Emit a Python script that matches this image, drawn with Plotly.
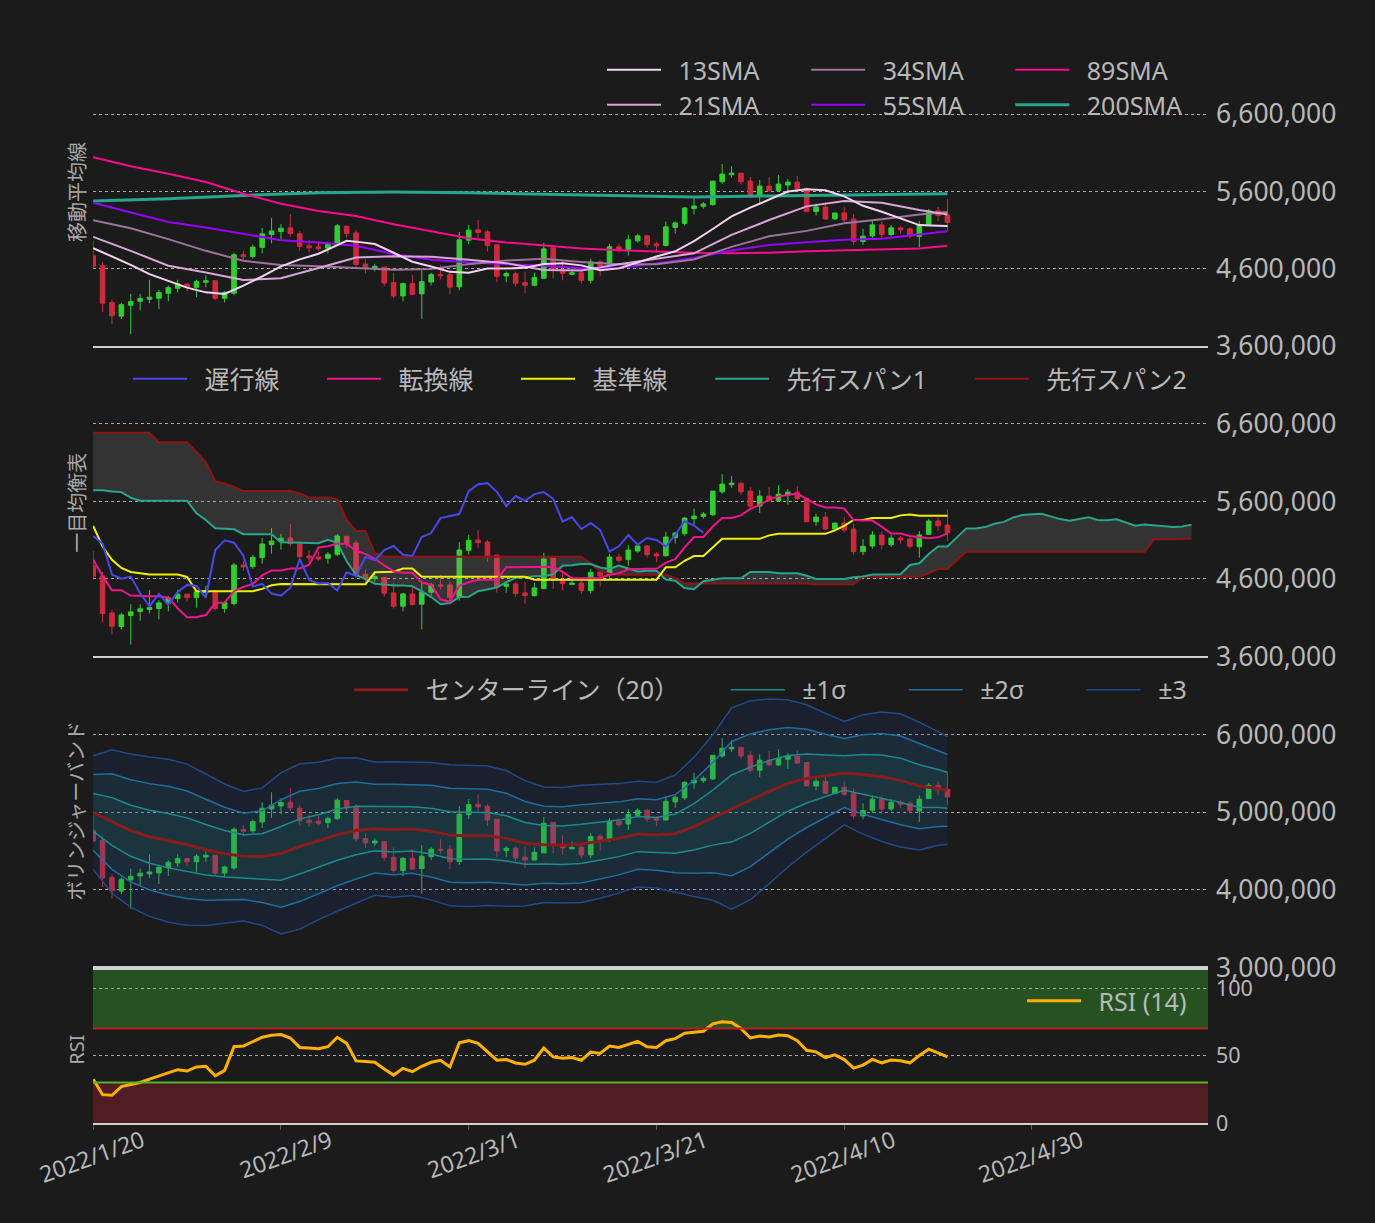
import pandas as pd
import plotly.graph_objects as go

START = pd.Timestamp("2022-01-20")


def to_dates(days):
    return [START + pd.Timedelta(days=int(d)) for d in days]


def jpy(vals_k):
    return [v * 1000 for v in vals_k]


# ---------------- daily candles (JPY thousands), 2022/1/20 .. 2022/4/21 ----------------
open_k = [4767, 4639, 4162, 3986, 4128, 4179, 4205, 4218, 4282, 4347, 4403, 4360, 4424, 4445, 4218, 4282,
          4780, 4759, 4875, 5042, 5081, 5128, 5051, 4896, 4883, 4866, 4918, 5149, 5063, 4660, 4604, 4621,
          4420, 4248, 4407, 4274, 4428, 4523, 4523, 4364, 4969, 5102, 5076, 4909, 4506, 4536, 4420, 4385,
          4475, 4870, 4578, 4527, 4548, 4450, 4690, 4651, 4883, 4849, 4960, 5025, 4922, 4900, 5132, 5184,
          5377, 5407, 5428, 5724, 5815, 5836, 5733, 5540, 5669, 5609, 5682, 5720, 5639, 5338, 5398, 5244,
          5321, 5244, 4952, 5025, 5167, 5042, 5128, 5115, 5016, 5175, 5347, 5295]
high_k = [4960, 4690, 4201, 4158, 4274, 4274, 4458, 4325, 4381, 4458, 4411, 4458, 4514, 4445, 4312, 4806,
          4832, 4909, 5128, 5257, 5179, 5308, 5089, 4973, 4948, 4948, 5179, 5158, 5102, 4724, 4664, 4621,
          4548, 4420, 4523, 4578, 4548, 4651, 4578, 5076, 5167, 5231, 5102, 4909, 4561, 4561, 4561, 4548,
          4935, 4870, 4703, 4626, 4587, 4729, 4716, 4922, 4922, 5038, 5051, 5038, 4948, 5209, 5209, 5398,
          5510, 5463, 5733, 5952, 5926, 5836, 5785, 5746, 5785, 5810, 5759, 5797, 5639, 5441, 5463, 5321,
          5398, 5308, 5115, 5218, 5205, 5167, 5154, 5141, 5218, 5373, 5398, 5501]
low_k = [4617, 4038, 3883, 3948, 3754, 4063, 4154, 4076, 4179, 4295, 4308, 4231, 4360, 4192, 4162, 4257,
         4703, 4733, 4797, 4926, 4978, 5016, 4832, 4810, 4832, 4797, 4896, 5003, 4617, 4540, 4566, 4372,
         4218, 4179, 4257, 3948, 4385, 4463, 4269, 4321, 4913, 4995, 4823, 4424, 4424, 4372, 4282, 4372,
         4475, 4475, 4450, 4527, 4411, 4411, 4501, 4617, 4810, 4772, 4939, 4875, 4819, 4888, 5055, 5158,
         5300, 5377, 5415, 5699, 5776, 5686, 5510, 5450, 5596, 5596, 5557, 5621, 5338, 5287, 5231, 5231,
         5205, 4909, 4909, 4991, 4978, 5016, 5055, 4991, 4875, 5175, 5218, 5089]
close_k = [4630, 4154, 3990, 4136, 4175, 4214, 4231, 4291, 4355, 4403, 4360, 4433, 4445, 4218, 4295, 4780,
           4754, 4879, 5051, 5089, 5124, 5055, 4888, 4870, 4857, 4918, 5154, 5055, 4656, 4604, 4630, 4415,
           4248, 4407, 4269, 4433, 4523, 4510, 4360, 4973, 5098, 5068, 4900, 4501, 4536, 4411, 4385, 4484,
           4857, 4587, 4540, 4548, 4450, 4686, 4639, 4883, 4840, 4973, 5025, 4913, 4896, 5141, 5192, 5385,
           5411, 5437, 5733, 5823, 5836, 5724, 5540, 5669, 5609, 5694, 5720, 5634, 5338, 5398, 5244, 5321,
           5231, 4952, 5021, 5167, 5042, 5128, 5102, 5021, 5167, 5347, 5287, 5197]

# ---------------- moving averages (read at sample days) ----------------
sma13_days = [0, 2, 4, 6, 8, 10, 12, 14, 16, 18, 20, 22, 24, 26, 27, 28, 30, 32, 34, 36, 38, 40, 42, 44,
              46, 48, 50, 52, 54, 56, 58, 60, 62, 64, 66, 68, 70, 72, 74, 76, 78, 80, 82, 84, 86, 88, 90, 91]
sma13_k = [4866, 4760, 4650, 4530, 4440, 4355, 4294, 4273, 4381, 4500, 4630, 4721, 4793, 4901, 4960, 4950,
           4919, 4806, 4690, 4628, 4559, 4548, 4603, 4602, 4613, 4662, 4669, 4643, 4579, 4604, 4684, 4757,
           4825, 4956, 5113, 5277, 5389, 5492, 5598, 5628, 5613, 5535, 5413, 5336, 5254, 5164, 5156, 5153]
sma_days = [0, 4, 8, 12, 16, 20, 24, 28, 32, 36, 40, 44, 48, 52, 56, 60, 64, 68, 72, 76, 80, 84, 88, 91]
sma21_k = [5012, 4831, 4638, 4552, 4454, 4476, 4608, 4745, 4761, 4756, 4717, 4672, 4584, 4576, 4656, 4725,
           4799, 5038, 5229, 5406, 5475, 5454, 5360, 5300]
sma34_k = [5226, 5123, 4982, 4831, 4703, 4647, 4630, 4605, 4585, 4595, 4659, 4706, 4728, 4688, 4656, 4656,
           4720, 4882, 5020, 5089, 5188, 5239, 5300, 5334]
sma55_k = [5454, 5334, 5205, 5132, 5046, 4969, 4939, 4896, 4789, 4716, 4681, 4660, 4638, 4605, 4608, 4668,
           4738, 4836, 4906, 4943, 4973, 4986, 5036, 5083]
sma89_k = [6042, 5926, 5827, 5720, 5570, 5441, 5346, 5282, 5175, 5089, 4995, 4939, 4896, 4861, 4840, 4819,
           4806, 4801, 4806, 4827, 4840, 4853, 4862, 4897]
sma200_days = [0, 8, 16, 24, 32, 40, 48, 56, 64, 72, 80, 88, 91]
sma200_k = [5475, 5505, 5548, 5583, 5591, 5583, 5561, 5544, 5527, 5540, 5553, 5565, 5570]

# ---------------- ichimoku ----------------
tenkan_k = [4848, 4634, 4455, 4455, 4386, 4378, 4378, 4378, 4357, 4222, 4106, 4106, 4134, 4289, 4295, 4441,
            4497, 4536, 4645, 4710, 4710, 4735, 4735, 4783, 5006, 5021, 5053, 5053, 4963, 4924, 4860, 4776,
            4699, 4679, 4679, 4553, 4525, 4336, 4306, 4512, 4558, 4590, 4590, 4590, 4750, 4750, 4750, 4757,
            4757, 4757, 4692, 4609, 4609, 4609, 4609, 4654, 4673, 4725, 4731, 4731, 4731, 4810, 4855, 5008,
            5141, 5141, 5276, 5386, 5386, 5420, 5504, 5555, 5626, 5665, 5684, 5701, 5632, 5562, 5521, 5521,
            5508, 5360, 5353, 5353, 5274, 5186, 5186, 5154, 5137, 5124, 5137, 5188]
kijun_days = [0, 1, 2, 3, 4, 5, 6, 9, 10, 11, 17, 18, 19, 20, 21, 29, 30, 32, 33, 34, 35, 46, 47, 60, 61,
              62, 63, 64, 65, 66, 67, 71, 72, 73, 78, 79, 80, 81, 82, 83, 85, 86, 87, 88, 91]
kijun_k = [5284, 5019, 4848, 4741, 4690, 4677, 4656, 4656, 4626, 4442, 4442, 4472, 4519, 4536, 4535, 4531,
           4686, 4692, 4735, 4735, 4628, 4628, 4590, 4590, 4750, 4750, 4834, 4896, 4896, 5008, 5117, 5117,
           5162, 5182, 5182, 5227, 5285, 5362, 5362, 5386, 5386, 5420, 5431, 5414, 5414]
span1_k = [5745, 5745, 5728, 5720, 5647, 5609, 5609, 5609, 5609, 5609,
           5609, 5446, 5361, 5254, 5247, 5241, 5177, 5177, 5177, 5177,
           5074, 5070, 5068, 5065, 5062, 5104, 5066, 4827, 4652, 4598,
           4538, 4528, 4517, 4517, 4507, 4439, 4366, 4274, 4288, 4366,
           4369, 4442, 4470, 4489, 4559, 4615, 4623, 4635, 4635, 4659,
           4771, 4776, 4792, 4792, 4747, 4728, 4773, 4734, 4696, 4707,
           4707, 4591, 4577, 4482, 4467, 4570, 4593, 4609, 4609, 4609,
           4689, 4689, 4689, 4674, 4674, 4674, 4641, 4600, 4600, 4600,
           4600, 4622, 4632, 4658, 4661, 4661, 4661, 4780, 4803, 4921,
           5019, 5019, 5142, 5252, 5252, 5269, 5311, 5336, 5394, 5424,
           5433, 5442, 5407, 5372, 5352, 5374, 5397, 5361, 5358, 5370,
           5330, 5286, 5303, 5293, 5276, 5269, 5276, 5301]
span2_days = [0, 6, 7, 10, 11, 12, 13, 14, 15, 16, 21, 22, 23, 25, 26, 27, 28, 29, 30, 31, 52, 53, 54, 55,
              56, 61, 62, 63, 76, 77, 81, 82, 88, 89, 90, 91, 92, 93, 112, 113, 115, 116, 117]
span2_k = [6485, 6485, 6365, 6365, 6237, 6109, 5861, 5831, 5788, 5733, 5733, 5703, 5651, 5651, 5634, 5361,
           5220, 5220, 4933, 4886, 4886, 4800, 4700, 4668, 4655, 4655, 4610, 4540, 4540, 4531, 4531, 4628,
           4628, 4673, 4729, 4729, 4841, 4950, 4950, 5111, 5111, 5117, 5117]
CHIKOU_SHIFT = 26

# ---------------- bollinger (20) ----------------
bb_days = [0, 2, 4, 6, 8, 10, 12, 14, 16, 18, 20, 22, 24, 26, 28, 30, 32, 34, 36, 38, 40, 42, 44, 46, 48,
           50, 52, 54, 56, 58, 60, 62, 64, 66, 68, 70, 72, 74, 76, 78, 80, 82, 84, 86, 88, 90, 91]
bb_mid_k = [4996, 4880, 4761, 4684, 4633, 4581, 4517, 4466, 4432, 4428, 4469, 4559, 4630, 4711, 4764, 4788,
            4777, 4785, 4756, 4703, 4696, 4697, 4663, 4599, 4581, 4575, 4592, 4624, 4663, 4719, 4706, 4724,
            4812, 4931, 5047, 5154, 5268, 5372, 5435, 5467, 5504, 5486, 5457, 5410, 5336, 5305, 5281]
bb_sigma_k = [244, 308, 329, 342, 350, 346, 325, 299, 278, 295, 346, 355, 338, 329, 312, 286, 291, 286, 295,
              303, 303, 299, 291, 269, 248, 248, 252, 244, 235, 227, 227, 252, 299, 355, 432, 427, 397, 359,
              316, 269, 222, 256, 278, 286, 274, 244, 231]

# ---------------- RSI (14) ----------------
rsi = [32.4, 21, 20.5, 27, 28.5, 30, 32.5, 35, 37, 39.5, 38.5, 41.5, 42, 35, 39, 56.5, 57, 60, 63.5, 65,
       65.5, 63, 56, 55.5, 55, 56.5, 63.5, 59, 46, 45.5, 45, 40, 35.5, 40.5, 38, 42, 45, 46.5, 41.5, 59.5,
       61, 59, 53, 46.5, 47, 44.5, 43.5, 46.5, 55.5, 49, 48, 48.5, 46.5, 52.5, 51.5, 57, 56, 58, 60.5, 56.5,
       56, 61, 62.5, 66.5, 67, 68, 73.5, 75, 74.5, 70, 63, 64.5, 63.7, 65.2, 64.7, 61, 53.9, 52.7, 48.5,
       50.5, 47, 40.7, 42.9, 47.1, 44.6, 46.6, 46.1, 44.6, 50, 54.7, 52, 49]
RSI_UPPER, RSI_LOWER = 70, 30

# ---------------- style ----------------
BG = "#1b1b1b"
FONT = "Noto Sans, Noto Sans CJK JP"
TXT = "#b8b8b8"
INC, DEC = "#33cc33", "#cc2a3c"
LEAD = "\u2002"                       # gap between legend symbol and text
TRAIL = "\u2003\u2002\u2009"          # gap between legend entries
TRAIL_ICHI = "\u2003\u2002"
TRAIL_BB = "\u2003\u2002\u2009\u2009\u2009\u200a"

dates = to_dates(range(len(close_k)))
ahead = to_dates(range(len(span1_k)))

fig = go.Figure()


def xref_of(yref):
    return "x" if yref == "y" else "x" + yref[1:]


def candles(yref):
    fig.add_trace(go.Candlestick(
        x=dates, open=jpy(open_k), high=jpy(high_k), low=jpy(low_k), close=jpy(close_k),
        increasing=dict(line=dict(color=INC, width=1), fillcolor=INC),
        decreasing=dict(line=dict(color=DEC, width=1), fillcolor=DEC),
        whiskerwidth=0, showlegend=False, xaxis=xref_of(yref), yaxis=yref))


def line(x, y, name, color, width, yref, legend, rank, show=True, group=None, trail=TRAIL):
    fig.add_trace(go.Scatter(
        x=x, y=y, name=LEAD + name + trail, mode="lines", line=dict(color=color, width=width),
        showlegend=show, legend=legend, legendrank=rank, legendgroup=group,
        xaxis=xref_of(yref), yaxis=yref))


# panel 1 : moving averages
candles("y")
line(to_dates(sma200_days), jpy(sma200_k), "200SMA", "#26a68c", 3, "y", "legend2", 3, trail="")
line(to_dates(sma_days), jpy(sma89_k), "89SMA", "#ff0a8c", 2, "y", "legend", 3, trail="")
line(to_dates(sma_days), jpy(sma55_k), "55SMA", "#9900ff", 2, "y", "legend2", 2)
line(to_dates(sma_days), jpy(sma34_k), "34SMA", "#9c749c", 2, "y", "legend", 2)
line(to_dates(sma_days), jpy(sma21_k), "21SMA", "#d9a6d9", 2, "y", "legend2", 1)
line(to_dates(sma13_days), jpy(sma13_k), "13SMA", "#f2d4f2", 2, "y", "legend", 1)

# panel 2 : ichimoku
fig.add_trace(go.Scatter(x=to_dates(span2_days), y=jpy(span2_k), mode="lines", line=dict(width=0),
                         showlegend=False, xaxis="x2", yaxis="y2"))
fig.add_trace(go.Scatter(x=ahead, y=jpy(span1_k), mode="lines", line=dict(width=0), fill="tonexty",
                         fillcolor="rgba(150,150,150,0.2)", showlegend=False, xaxis="x2", yaxis="y2"))
candles("y2")
line(to_dates(span2_days), jpy(span2_k), "先行スパン2", "#8c1414", 2, "y2", "legend3", 5, trail="")
line(ahead, jpy(span1_k), "先行スパン1", "#26a68c", 2, "y2", "legend3", 4, trail=TRAIL_ICHI)
line(to_dates(kijun_days), jpy(kijun_k), "基準線", "#f0f000", 2, "y2", "legend3", 3, trail=TRAIL_ICHI)
line(dates, jpy(tenkan_k), "転換線", "#f0148c", 2, "y2", "legend3", 2, trail=TRAIL_ICHI)
line(dates[:len(close_k) - CHIKOU_SHIFT], jpy(close_k[CHIKOU_SHIFT:]), "遅行線", "#4848e8", 2, "y2",
     "legend3", 1, trail=TRAIL_ICHI)

# panel 3 : bollinger
bbx = to_dates(bb_days)
band = {k: ([(m + k * s) * 1000 for m, s in zip(bb_mid_k, bb_sigma_k)],
            [(m - k * s) * 1000 for m, s in zip(bb_mid_k, bb_sigma_k)]) for k in (1, 2, 3)}
fills = {3: "rgba(30,60,150,0.16)", 2: "rgba(30,150,150,0.09)", 1: "rgba(30,160,140,0.09)"}
for k in (3, 2, 1):
    up, lo = band[k]
    fig.add_trace(go.Scatter(x=bbx, y=lo, mode="lines", line=dict(width=0), showlegend=False,
                             xaxis="x3", yaxis="y3"))
    fig.add_trace(go.Scatter(x=bbx, y=up, mode="lines", line=dict(width=0), fill="tonexty",
                             fillcolor=fills[k], showlegend=False, xaxis="x3", yaxis="y3"))
candles("y3")
bcol = {1: "#1e8a8a", 2: "#1f6e9e", 3: "#1f4a8a"}
bname = {1: "±1σ", 2: "±2σ", 3: "±3"}
for k in (3, 2, 1):
    up, lo = band[k]
    tr = "" if k == 3 else TRAIL_BB
    line(bbx, up, bname[k], bcol[k], 1.5, "y3", "legend4", k + 1, True, "bb%d" % k, trail=tr)
    line(bbx, lo, bname[k], bcol[k], 1.5, "y3", "legend4", k + 1, False, "bb%d" % k, trail=tr)
line(bbx, jpy(bb_mid_k), "センターライン（20）", "#8b1a1a", 3, "y3", "legend4", 1)

# panel 4 : RSI
line(dates, rsi, "RSI (14)", "#ffb000", 3, "y4", "legend5", 1, trail="")

# ---------------- layout ----------------
doms = {"y": [0.7161, 1.0], "y2": [0.4300, 0.7124], "y3": [0.1433, 0.4286], "y4": [0.0, 0.1433]}
ranges = {"y": [3.6e6, 7.583e6], "y2": [3.6e6, 7.553e6], "y3": [3.0e6, 6.986e6], "y4": [0, 115.2]}

layout = dict(
    width=1375, height=1223, paper_bgcolor=BG, plot_bgcolor=BG,
    margin=dict(l=93, r=167, t=38, b=100),
    font=dict(family=FONT, size=24, color=TXT),
    hovermode=False,
)
xr = [START - pd.Timedelta(minutes=30), pd.Timestamp("2022-05-18 18:00")]
for i, yk in enumerate(["y", "y2", "y3", "y4"]):
    xk = "xaxis" if i == 0 else "xaxis%d" % (i + 1)
    yax = "yaxis" if i == 0 else "yaxis%d" % (i + 1)
    last = i == 3
    layout[xk] = dict(
        domain=[0, 1], anchor=yk, range=xr, type="date", showgrid=False, zeroline=False,
        showline=True, linecolor="#d0d0d0", linewidth=2, mirror=last,
        rangeslider=dict(visible=False), showticklabels=last,
        ticks="outside" if last else "", ticklen=5, tickcolor="#555555",
        tick0=START, dtick=20 * 86400000, tickformat="%Y/%-m/%-d", tickangle=-20,
        ticklabelshift=49, ticklabelstandoff=-11,
        tickfont=dict(family=FONT, size=23, color=TXT),
    )
    if i > 0:
        layout[xk]["matches"] = "x"
    ycfg = dict(
        domain=doms[yk], anchor=xref_of(yk), range=ranges[yk], side="right",
        showgrid=True, gridcolor="#a8a8a8", gridwidth=1, griddash="3px,3px", zeroline=False,
        showline=False, ticks="", ticklabelstandoff=7,
        tickfont=dict(family=FONT, size=26.5 if not last else 21.5, color=TXT),
    )
    if last:
        ycfg["tickvals"] = [0, 50, 100]
    else:
        ycfg.update(tickformat=",d", dtick=1e6, tick0=3.6e6 if i < 2 else 3.0e6)
    layout[yax] = ycfg

leg = dict(orientation="h", bgcolor="rgba(0,0,0,0)", font=dict(family=FONT, size=25, color=TXT),
           itemwidth=54, yanchor="middle", traceorder="normal")
layout["legend"] = dict(leg, x=0.4565, xanchor="left", y=0.9705)
layout["legend2"] = dict(leg, x=0.4565, xanchor="left", y=0.9382)
layout["legend3"] = dict(leg, x=0.9857, xanchor="right", y=0.6857)
layout["legend4"] = dict(leg, x=0.9857, xanchor="right", y=0.3991)
layout["legend5"] = dict(leg, x=0.9857, xanchor="right", y=0.1124)

titles = [("移動平均線", 0.858), ("一目均衡表", 0.5714), ("ボリンジャーバンド", 0.2876), ("RSI", 0.0673)]
layout["annotations"] = [dict(text=t, x=-0.0145, y=y, xref="paper", yref="paper", textangle=-90,
                              showarrow=False, xanchor="center", yanchor="middle",
                              font=dict(family=FONT, size=20, color="#a8a8a8")) for t, y in titles]
layout["shapes"] = [
    dict(type="rect", xref="x4 domain", yref="y4", x0=0, x1=1, y0=RSI_UPPER, y1=115.2,
         fillcolor="#265222", line=dict(width=0), layer="below"),
    dict(type="rect", xref="x4 domain", yref="y4", x0=0, x1=1, y0=0, y1=RSI_LOWER,
         fillcolor="#501e22", line=dict(width=0), layer="below"),
    dict(type="line", xref="x4 domain", yref="y4", x0=0, x1=1, y0=RSI_UPPER, y1=RSI_UPPER,
         line=dict(color="#b22222", width=2)),
    dict(type="line", xref="x4 domain", yref="y4", x0=0, x1=1, y0=RSI_LOWER, y1=RSI_LOWER,
         line=dict(color="#55b52a", width=2)),
]
fig.update_layout(**layout)
fig.write_html("out.html", config={"displayModeBar": False},
               post_script="document.body.style.margin='0';document.body.style.overflow='hidden';")
